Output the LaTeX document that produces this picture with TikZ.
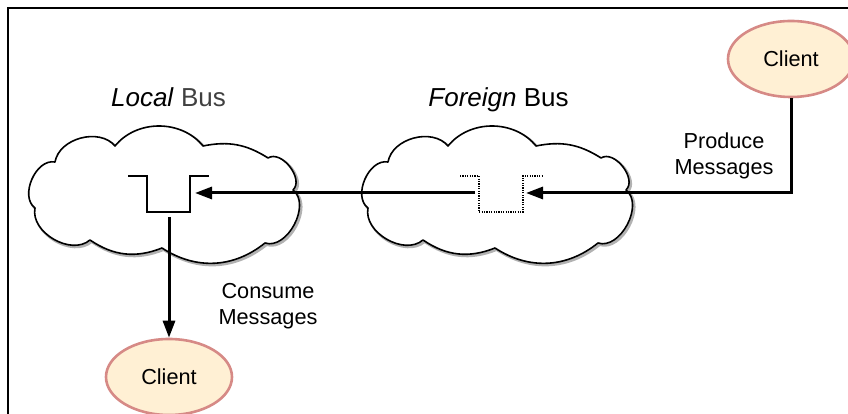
\documentclass[tikz,border=0pt]{standalone}
\usepackage{fontspec}
\setmainfont{Liberation Sans}
\usetikzlibrary{shapes.geometric,arrows.meta}

\definecolor{clientfill}{RGB}{255,240,212}
\definecolor{clientrim}{RGB}{214,138,134}

% outline of one bus cloud, around its own centre
\newcommand{\buscloudpath}{(-110,33) to[bend left=65] (-50,49) to[bend left=51] (38,49)
  to[bend left=22] (103,37) to[bend left=84] (128,5) to[bend left=80] (100,-48)
  to[bend left=36] (-3,-53) to[bend left=28] (-75,-45) to[bend left=71] (-130,-13)
  to[bend left=77] (-110,33) -- cycle}

\begin{document}
\begin{tikzpicture}[x=1pt, y=1pt,
  client/.style={ellipse, draw=clientrim, line width=2.6pt, fill=clientfill,
    minimum width=126pt, minimum height=76pt, inner sep=0pt, font=\fontsize{21.7}{26}\selectfont},
  msglabel/.style={align=center, font=\fontsize{21.7}{26}\selectfont},
  bustitle/.style={anchor=base, font=\fontsize{26}{30}\selectfont},
  msgarrow/.style={-{Triangle[length=17pt, width=12pt]}, line width=3pt},
  queueline/.style={line width=1.4pt},
  cloudline/.style={draw=black, line width=1.6pt, fill=white, line join=round},
  cloudshadow/.style={draw=black!30, line width=2.8pt, line join=round, shift={(1.6,-1.6)}}]
  \useasboundingbox (0,0) rectangle (848,414);
  \clip (0,0) rectangle (848,414);

  \draw[line width=1.5pt] (8,0) -- (8,406) -- (848,406);

  % the two buses
  \begin{scope}[shift={(165,219)}]
    \draw[cloudshadow] \buscloudpath;
    \draw[cloudline] \buscloudpath;
  \end{scope}
  \begin{scope}[shift={(498,219)}]
    \draw[cloudshadow] \buscloudpath;
    \draw[cloudline] \buscloudpath;
  \end{scope}

  \node[bustitle] (localtitle) at (168.5,307) {\textit{Local} \textcolor{black!75}{Bus}};
  \node[bustitle] (foreigntitle) at (498.5,307) {\textit{Foreign} Bus};

  % queues
  \draw[queueline] (128,238) -- (147,238) -- (147,202) -- (190,202) -- (190,238) -- (209,238);
  \draw[queueline, line width=1.2pt, dash pattern=on 1.2pt off 1.2pt]
    (460,238) -- (479,238) -- (479,202) -- (523,202) -- (523,238) -- (542,238);
  \coordinate (localin) at (195,221);
  \coordinate (localout) at (169,197);
  \coordinate (foreignin) at (526,221);
  \coordinate (foreignout) at (475,221);

  \node[client] (prodclient) at (791,355) {Client};
  \node[client] (consclient) at (169,37) {Client};

  \draw[msgarrow] (prodclient.south) |- (foreignin);
  \draw[msgarrow] (foreignout) -- (localin);
  \draw[msgarrow] (localout) -- (consclient.north);

  \node[msglabel] (produce) at (724,258.5) {Produce\\Messages};
  \node[msglabel] (consume) at (268,108) {Consume\\Messages};
\end{tikzpicture}
\end{document}
